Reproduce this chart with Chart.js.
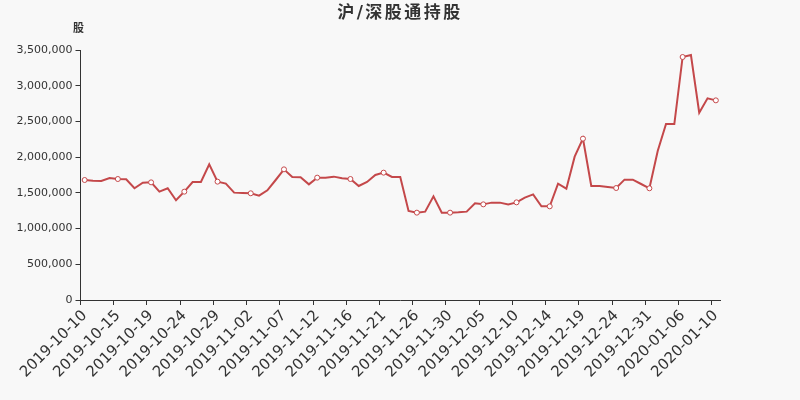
<!DOCTYPE html>
<html>
<head>
<meta charset="utf-8">
<script src="https://cdn.jsdelivr.net/npm/chart.js@4/dist/chart.umd.min.js"></script>
<style>
  html, body { margin: 0; padding: 0; background: #f8f8f8; }
  #wrap { width: 800px; height: 400px; }
</style>
</head>
<body>
<div id="wrap"><canvas id="c"></canvas></div>
<script>
// 日付（カテゴリ）
const dates = [
  "2019-10-10","2019-10-11","2019-10-12","2019-10-14","2019-10-15","2019-10-16","2019-10-17","2019-10-18",
  "2019-10-19","2019-10-21","2019-10-22","2019-10-23","2019-10-24","2019-10-25","2019-10-26","2019-10-28",
  "2019-10-29","2019-10-30","2019-10-31","2019-11-01","2019-11-02","2019-11-04","2019-11-05","2019-11-06",
  "2019-11-07","2019-11-08","2019-11-09","2019-11-11","2019-11-12","2019-11-13","2019-11-14","2019-11-15",
  "2019-11-16","2019-11-18","2019-11-19","2019-11-20","2019-11-21","2019-11-22","2019-11-23","2019-11-25",
  "2019-11-26","2019-11-27","2019-11-28","2019-11-29","2019-11-30","2019-12-02","2019-12-03","2019-12-04",
  "2019-12-05","2019-12-06","2019-12-07","2019-12-09","2019-12-10","2019-12-11","2019-12-12","2019-12-13",
  "2019-12-14","2019-12-16","2019-12-17","2019-12-18","2019-12-19","2019-12-20","2019-12-21","2019-12-23",
  "2019-12-24","2019-12-25","2019-12-26","2019-12-27","2019-12-31","2020-01-02","2020-01-03","2020-01-04",
  "2020-01-06","2020-01-07","2020-01-08","2020-01-09","2020-01-10"
];

// 持股数（股）
const holdings = [
  1680000,1670000,1666000,1708000,1694000,1690000,1564000,1642000,1647000,1517000,
  1564000,1396000,1517000,1652000,1652000,1900000,1657000,1629000,1503000,1498000,
  1494000,1461000,1536000,1680000,1829000,1722000,1717000,1619000,1713000,1713000,
  1727000,1704000,1694000,1596000,1652000,1750000,1783000,1722000,1722000,1246000,
  1223000,1237000,1451000,1223000,1223000,1228000,1237000,1353000,1339000,1363000,
  1363000,1339000,1367000,1433000,1479000,1311000,1311000,1629000,1559000,2007000,
  2259000,1596000,1595000,1582000,1568000,1685000,1685000,1624000,1564000,2086000,
  2464000,2464000,3402000,3430000,2623000,2823000,2795000
];

const titleText = "沪/深股通持股";
const unitText = "股";
const labelEvery = 4;
const lineColor = "#c4484a";
const fontFamily = "'DejaVu Sans', 'Noto Sans CJK SC', sans-serif";

// タイトルと単位ラベル「股」
const headerText = {
  id: "headerText",
  afterDraw(chart) {
    const ctx = chart.ctx;
    ctx.save();
    ctx.fillStyle = "#333";
    ctx.textAlign = "center";
    ctx.textBaseline = "middle";
    ctx.font = "bold 17px " + fontFamily;
    ctx.letterSpacing = "2.5px";
    ctx.fillText(titleText, chart.width / 2, 14);
    ctx.letterSpacing = "0px";
    ctx.font = "bold 11px " + fontFamily;
    ctx.fillText(unitText, chart.chartArea.left - 2, 29);
    ctx.restore();
  }
};

const ctx = document.getElementById("c").getContext("2d");
new Chart(ctx, {
  type: "line",
  data: {
    labels: dates,
    datasets: [{
      data: holdings,
      borderColor: lineColor,
      borderWidth: 2,
      tension: 0,
      pointRadius: c => (c.index % labelEvery === 0 ? 2.5 : 0),
      pointBackgroundColor: "#fff",
      pointBorderColor: lineColor,
      pointBorderWidth: 1
    }]
  },
  options: {
    responsive: true,
    maintainAspectRatio: false,
    animation: false,
    layout: { padding: { left: 0, right: 80, top: 50, bottom: 0 } },
    plugins: {
      legend: { display: false },
      tooltip: { enabled: false },
      title: { display: false }
    },
    scales: {
      x: {
        type: "category",
        offset: true,
        grid: {
          offset: true,
          drawOnChartArea: false,
          tickLength: 5,
          tickColor: c => (c.index % labelEvery === 0 ? "#333" : "rgba(0,0,0,0)")
        },
        border: { color: "#333", width: 1 },
        ticks: {
          autoSkip: false,
          maxRotation: 45,
          minRotation: 45,
          color: "#333",
          padding: 2,
          font: { family: fontFamily, size: 15 },
          callback: function (v, i) {
            return i % labelEvery === 0 ? this.getLabelForValue(v) : "";
          }
        },
        afterFit: s => { s.height = 100; }
      },
      y: {
        min: 0,
        max: 3500000,
        grid: { drawOnChartArea: false, tickLength: 5, tickColor: "#333" },
        border: { color: "#333", width: 1 },
        ticks: {
          stepSize: 500000,
          color: "#333",
          padding: 3,
          font: { family: fontFamily, size: 11 },
          callback: v => v.toLocaleString("en-US")
        },
        afterFit: s => { s.width = 80.5; }
      }
    }
  },
  plugins: [headerText]
});
</script>
</body>
</html>
